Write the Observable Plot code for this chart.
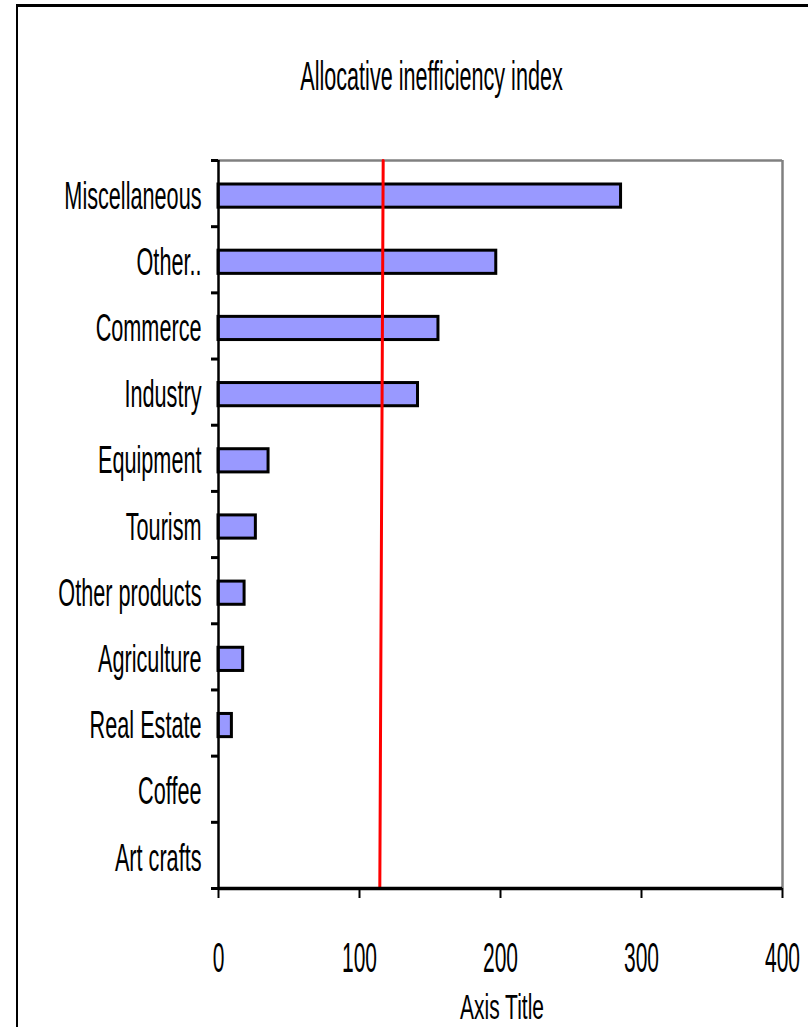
<!DOCTYPE html>
<html><head><meta charset="utf-8">
<script src="https://cdn.jsdelivr.net/npm/d3@7"></script>
<script src="https://cdn.jsdelivr.net/npm/@observablehq/plot@0.6"></script>
<style>
html,body{margin:0;padding:0;background:#fff;overflow:hidden;}
#wrap{position:relative;width:808px;height:1027px;overflow:hidden;background:#fff;}
#border{position:absolute;left:16px;top:4px;width:900px;height:1100px;border-left:2.5px solid #000;border-top:3px solid #000;pointer-events:none;}
svg{display:block;}
</style></head><body><div id="wrap"><div id="border"></div></div>
<script>
// ---- data ----
const categories = ["Miscellaneous","Other..","Commerce","Industry","Equipment","Tourism","Other products","Agriculture","Real Estate","Coffee","Art crafts"];
const values = [285.5, 197, 156, 141.5, 35.5, 26.5, 18.5, 17.5, 9.5, 0, 0];
const xTicks = [0, 100, 200, 300, 400];
const referenceLineX = [116.8, 114.4]; // value at top, value at bottom of plot
const chartTitle = "Allocative inefficiency index";
const xAxisTitle = "Axis Title";

// ---- chart ----
const n = categories.length;
const idx = d3.range(n);
const lineData = [
  {x: referenceLineX[0], y: -0.5},
  {x: referenceLineX[1], y: n - 0.5}
];

const FS_Y = 38, FS_X = 42, FS_T = 40, FS_AT = 35;
const squeeze = {[FS_Y]: 0.57, [FS_X]: 0.5, [FS_T]: 0.54, [FS_AT]: 0.6};

const chart = Plot.plot({
  width: 808,
  height: 1027,
  marginLeft: 218,
  marginRight: 26,
  marginTop: 160,
  marginBottom: 139,
  style: {fontFamily: '"Liberation Sans", Arial, sans-serif', color: "#000", background: "#fff"},
  x: {domain: [0, 400], axis: null, label: null},
  y: {domain: [-0.5, n - 0.5], reverse: true, axis: null, label: null},
  marks: [
    // gray top and right frame lines
    Plot.ruleY([-0.5], {stroke: "#808080", strokeWidth: 2.5}),
    Plot.ruleX([400], {stroke: "#808080", strokeWidth: 2.5}),
    // bars
    Plot.rectX(idx, {
      x1: 0,
      x2: i => values[i],
      y1: i => i - 0.5,
      y2: i => i + 0.5,
      insetTop: 24,
      insetBottom: 19,
      fill: "#9999ff",
      stroke: "#000",
      strokeWidth: 3
    }),
    // reference line
    Plot.line(lineData, {x: "x", y: "y", stroke: "#ff0000", strokeWidth: 3}),
    // black axis lines
    Plot.ruleX([0], {stroke: "#000", strokeWidth: 2.5}),
    Plot.ruleY([n - 0.5], {stroke: "#000", strokeWidth: 3.5}),
    // y ticks at category boundaries
    Plot.axisY(d3.range(-0.5, n), {tickSize: 7, text: null, label: null, stroke: "#000", strokeWidth: 3}),
    // y labels
    Plot.axisY(idx, {tickSize: 0, tickPadding: 17, label: null, tickFormat: i => categories[i], fontSize: FS_Y, dy: 3, fill: "#000"}),
    // x axis
    Plot.axisX(xTicks, {tickSize: 10, tickPadding: 44, label: null, strokeWidth: 2, stroke: "#000", fontSize: FS_X, fill: "#000", tickFormat: d => String(d)}),
    // title
    Plot.text([chartTitle], {text: d => d, frameAnchor: "top", lineAnchor: "middle", dx: -69, dy: -83, fontSize: FS_T, fill: "#000"}),
    // axis title
    Plot.text([xAxisTitle], {text: d => d, frameAnchor: "bottom", lineAnchor: "middle", dx: 1.5, dy: 119, fontSize: FS_AT, fill: "#000"})
  ]
});

// horizontally condense text to mimic the narrow type of the original
chart.querySelectorAll("text").forEach(t => {
  const holder = t.closest("[font-size]");
  if (!holder) return;
  const fs = parseFloat(holder.getAttribute("font-size"));
  const s = squeeze[fs];
  if (!s) return;
  const x = parseFloat(t.getAttribute("x") || 0);
  const prev = t.getAttribute("transform") || "";
  t.setAttribute("transform", `${prev} translate(${x * (1 - s)},0) scale(${s},1)`.trim());
});

document.getElementById("wrap").appendChild(chart);
</script>
</body></html>
